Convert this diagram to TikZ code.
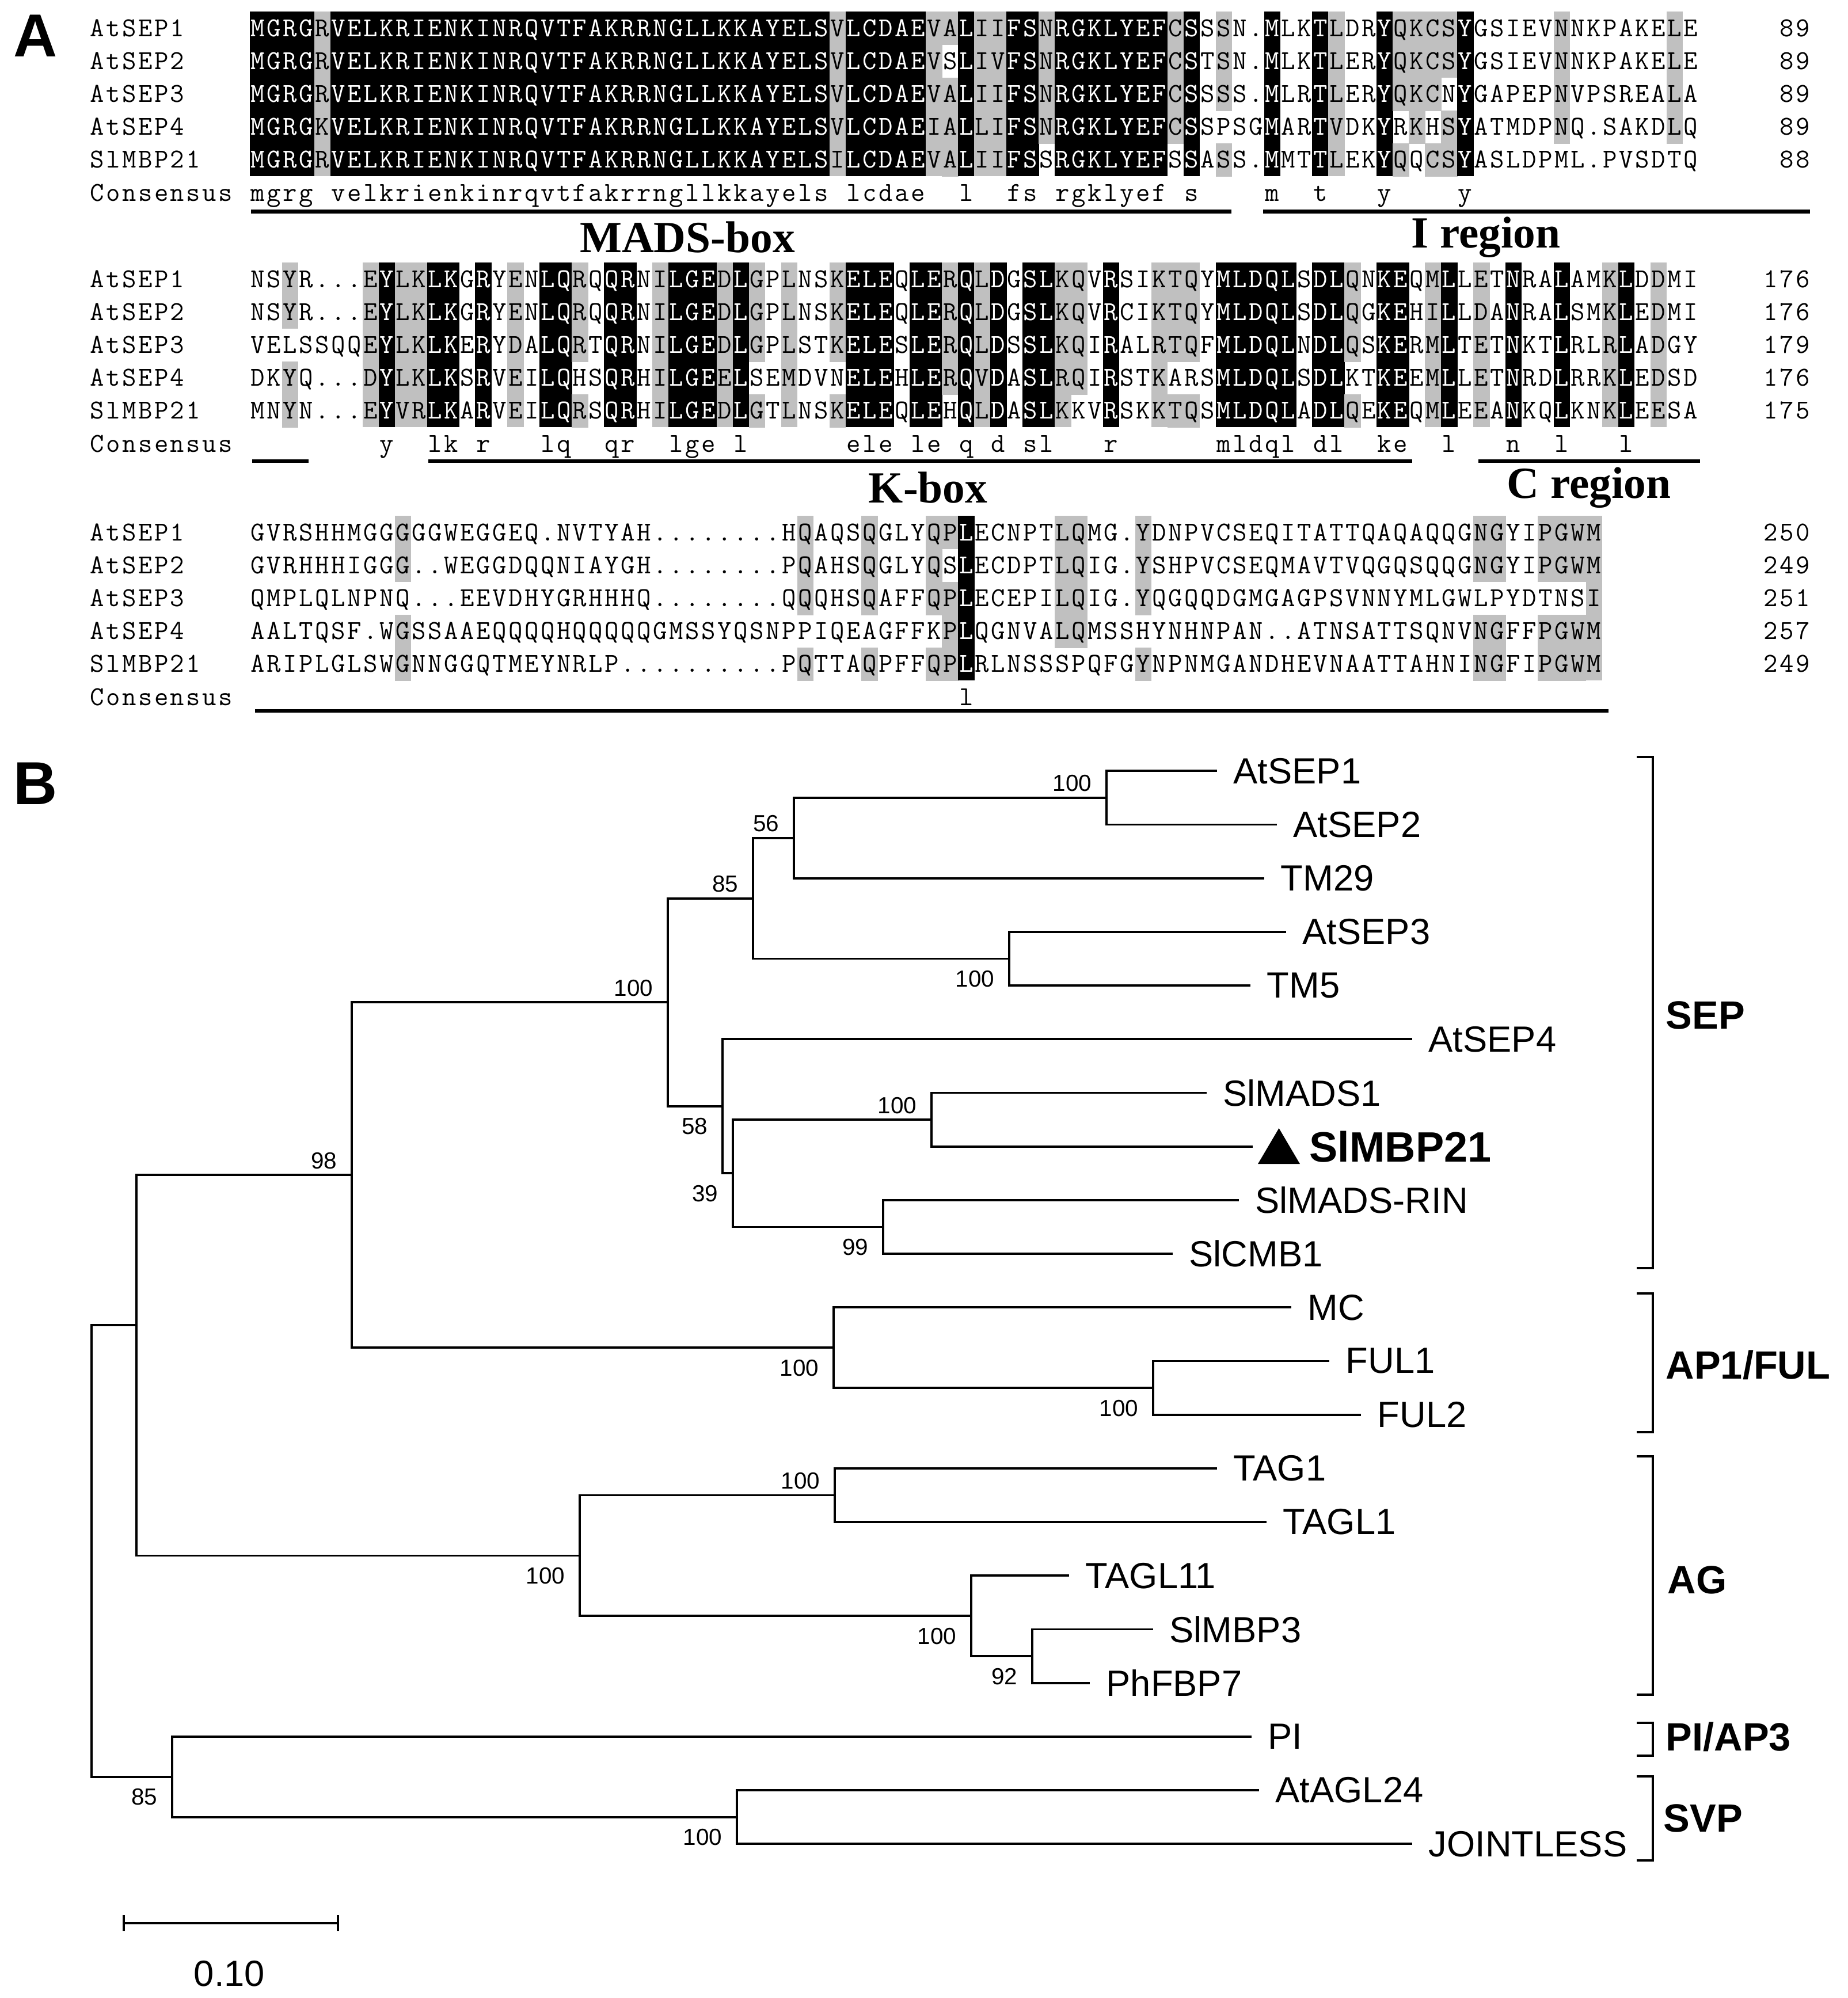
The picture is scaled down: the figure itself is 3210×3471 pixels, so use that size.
\documentclass[tikz,border=0pt]{standalone}
\usepackage{fontspec}
\setmainfont{Liberation Sans}
\newfontfamily\serifbf{Liberation Serif}
\usetikzlibrary{calc}
\definecolor{seqgray}{RGB}{192,192,192}
\makeatletter
\newcount\cidx
\newcount\nodecnt
\def\xo{434}
\def\pw{27.96}
\def\rh{28.6}
\def\rp{57.2}
\def\bl{14}
\def\popc#1#2\relax{\def\curc{#1}\def\crest{#2}}
\def\shtfor{\@tfor\colcc:=}
\newcommand\shadecol[3]{%
  \if B#3\relax
    \fill[black] ({\xo+#1*\pw},{#2-\rh}) rectangle ({\xo+(#1+1)*\pw+0.6},{#2+4*\rp+\rh});%
  \else\if G#3\relax
    \fill[seqgray] ({\xo+#1*\pw},{#2-\rh}) rectangle ({\xo+(#1+1)*\pw+0.6},{#2+4*\rp+\rh});%
  \else\ifnum`#3>47\relax
    \foreach \rw in {1,...,5}{\ifnum\rw=#3\relax\else
      \fill[seqgray] ({\xo+#1*\pw},{#2+(\rw-1)*\rp-\rh}) rectangle ({\xo+(#1+1)*\pw+0.6},{#2+(\rw-1)*\rp+\rh+0.6});\fi}%
  \fi\fi\fi}
\newcommand\shblock[2]{%
  \cidx=0 \edef\tmplist{#2}%
  \expandafter\shtfor\tmplist\do{%
    \edef\shnext{\noexpand\shadecol{\the\cidx}{#1}{\colcc}}\shnext
    \advance\cidx by 1 }}
\newcommand\seqrow[3]{%
  \cidx=0 \edef\crest{#2}%
  \@tfor\sqch:=#3\do{%
    \expandafter\popc\crest\relax
    \if B\curc\def\tcol{white}\else\def\tcol{black}\fi
    \global\advance\nodecnt by 1
    \node[seqch,text=\tcol] (q\the\nodecnt) at ({\xo+(\the\cidx+0.5)*\pw},{#1+\bl}) {\sqch};%
    \advance\cidx by 1 }}
\newcommand\consrow[3]{%
  \cidx=0 \edef\crest{#2}%
  \@tfor\sqch:=#3\do{%
    \expandafter\popc\crest\relax
    \if B\curc
      \global\advance\nodecnt by 1
      \node[seqch] (q\the\nodecnt) at ({\xo+(\the\cidx+0.5)*\pw},{#1+\bl}) {\lowercase\expandafter{\sqch}};%
    \fi
    \advance\cidx by 1 }}
\newcommand\plainrow[3]{%
  \cidx=0
  \@tfor\sqch:=#3\do{%
    \global\advance\nodecnt by 1
    \node[seqch] (q\the\nodecnt) at ({#1+(\the\cidx+0.5)*\pw},{#2+\bl}) {\sqch};%
    \advance\cidx by 1 }}
\makeatother
\def\codesA{BBBBG%
BBBBBBBBBB%
BBBBBBBBBB%
BBBBBBBBBB%
B%
GBBBBBG2BGGBB5BBBBBBB5B-4--B--BG--B4543B-----5------5-}
\def\codesB{--3----G%
BGGBB%
-B-G-%
BB4-BB-%
GBBBGB%
4-G--4%
BBB-BB5%
BGB-BB%
G5-B--%
G44-%
BBBBB-%
BB4-BB-%
GB-G-B-%
-B--GB-G--}
\def\codesC{---------3%
----------%
----------%
----%
4---4---42B%
-----55---4%
----------%
----------%
33--333G}
\tikzset{
  seqch/.style={font=\ttfamily\fontsize{13.5}{14}\selectfont, inner sep=0pt, anchor=base},
  regionl/.style={font=\serifbf\bfseries\fontsize{22}{24}\selectfont, inner sep=0pt},
  leafl/.style={font=\fontsize{18}{20}\selectfont, anchor=west, inner sep=0pt},
  bootv/.style={font=\fontsize{11.5}{12}\selectfont, anchor=east, inner sep=0pt},
  treeline/.style={line width=1.1pt},
  cladel/.style={font=\bfseries\fontsize{19.5}{21}\selectfont, anchor=west, inner sep=0pt},
  panellbl/.style={font=\bfseries\fontsize{30}{32}\selectfont, inner sep=0pt},
  ulbar/.style={line width=1.9pt},
}
\begin{document}
\begin{tikzpicture}[x=0.1mm,y=-0.1mm]
\useasboundingbox (0,0) rectangle (3210,3471);
\fill[white] (0,0) rectangle (3210,3471);
% ---------------- Panel A ----------------
\node[panellbl] (pA) at (62,62) {A};
% block 1
\shblock{49}{\codesA}
\plainrow{154.4}{49}{AtSEP1}
\plainrow{154.4}{106.2}{AtSEP2}
\plainrow{154.4}{163.4}{AtSEP3}
\plainrow{154.4}{220.6}{AtSEP4}
\plainrow{154.4}{277.8}{SlMBP21}
\plainrow{154.4}{335}{Consensus}
\seqrow{49}{\codesA}{MGRGRVELKRIENKINRQVTFAKRRNGLLKKAYELSVLCDAEVALIIFSNRGKLYEFCSSSN.MLKTLDRYQKCSYGSIEVNNKPAKELE}
\seqrow{106.2}{\codesA}{MGRGRVELKRIENKINRQVTFAKRRNGLLKKAYELSVLCDAEVSLIVFSNRGKLYEFCSTSN.MLKTLERYQKCSYGSIEVNNKPAKELE}
\seqrow{163.4}{\codesA}{MGRGRVELKRIENKINRQVTFAKRRNGLLKKAYELSVLCDAEVALIIFSNRGKLYEFCSSSS.MLRTLERYQKCNYGAPEPNVPSREALA}
\seqrow{220.6}{\codesA}{MGRGKVELKRIENKINRQVTFAKRRNGLLKKAYELSVLCDAEIALLIFSNRGKLYEFCSSPSGMARTVDKYRKHSYATMDPNQ.SAKDLQ}
\seqrow{277.8}{\codesA}{MGRGRVELKRIENKINRQVTFAKRRNGLLKKAYELSILCDAEVALIIFSSRGKLYEFSSASS.MMTTLEKYQQCSYASLDPML.PVSDTQ}
\consrow{335}{\codesA}{MGRGRVELKRIENKINRQVTFAKRRNGLLKKAYELSVLCDAEVALIIFSNRGKLYEFCSSSN.MLKTLDRYQKCSYGSIEVNNKPAKELE}
\plainrow{3090}{49}{89}
\plainrow{3090}{106.2}{89}
\plainrow{3090}{163.4}{89}
\plainrow{3090}{220.6}{89}
\plainrow{3090}{277.8}{88}
\draw[ulbar] (436,367.5) -- (2139,367.5);
\draw[ulbar] (2194,367.5) -- (3144,367.5);
\node[regionl] (mads) at (1194,412) {MADS-box};
\node[regionl] (ireg) at (2581,412) {I region};
% block 2
\shblock{485}{\codesB}
\plainrow{154.4}{485}{AtSEP1}
\plainrow{154.4}{542.2}{AtSEP2}
\plainrow{154.4}{599.4}{AtSEP3}
\plainrow{154.4}{656.6}{AtSEP4}
\plainrow{154.4}{713.8}{SlMBP21}
\plainrow{154.4}{771}{Consensus}
\seqrow{485}{\codesB}{NSYR...EYLKLKGRYENLQRQQRNILGEDLGPLNSKELEQLERQLDGSLKQVRSIKTQYMLDQLSDLQNKEQMLLETNRALAMKLDDMI}
\seqrow{542.2}{\codesB}{NSYR...EYLKLKGRYENLQRQQRNILGEDLGPLNSKELEQLERQLDGSLKQVRCIKTQYMLDQLSDLQGKEHILLDANRALSMKLEDMI}
\seqrow{599.4}{\codesB}{VELSSQQEYLKLKERYDALQRTQRNILGEDLGPLSTKELESLERQLDSSLKQIRALRTQFMLDQLNDLQSKERMLTETNKTLRLRLADGY}
\seqrow{656.6}{\codesB}{DKYQ...DYLKLKSRVEILQHSQRHILGEELSEMDVNELEHLERQVDASLRQIRSTKARSMLDQLSDLKTKEEMLLETNRDLRRKLEDSD}
\seqrow{713.8}{\codesB}{MNYN...EYVRLKARVEILQRSQRHILGEDLGTLNSKELEQLEHQLDASLKKVRSKKTQSMLDQLADLQEKEQMLEEANKQLKNKLEESA}
\consrow{771}{\codesB}{NSYR...EYLKLKGRYENLQRQQRNILGEDLGPLNSKELEQLERQLDGSLKQVRSIKTQYMLDQLSDLQNKEQMLLETNRALAMKLDDMI}
\plainrow{3062}{485}{176}
\plainrow{3062}{542.2}{176}
\plainrow{3062}{599.4}{179}
\plainrow{3062}{656.6}{176}
\plainrow{3062}{713.8}{175}
\draw[ulbar] (438,801) -- (536,801);
\draw[ulbar] (744,801) -- (2453,801);
\draw[ulbar] (2568,801) -- (2953,801);
\node[regionl] (kbox) at (1612,847) {K-box};
\node[regionl] (creg) at (2760,847) {C region};
% block 3
\shblock{925}{\codesC}
\plainrow{154.4}{925}{AtSEP1}
\plainrow{154.4}{982.2}{AtSEP2}
\plainrow{154.4}{1039.4}{AtSEP3}
\plainrow{154.4}{1096.6}{AtSEP4}
\plainrow{154.4}{1153.8}{SlMBP21}
\plainrow{154.4}{1211}{Consensus}
\seqrow{925}{\codesC}{GVRSHHMGGGGGWEGGEQ.NVTYAH........HQAQSQGLYQPLECNPTLQMG.YDNPVCSEQITATTQAQAQQGNGYIPGWM}
\seqrow{982.2}{\codesC}{GVRHHHIGGG..WEGGDQQNIAYGH........PQAHSQGLYQSLECDPTLQIG.YSHPVCSEQMAVTVQGQSQQGNGYIPGWM}
\seqrow{1039.4}{\codesC}{QMPLQLNPNQ...EEVDHYGRHHHQ........QQQHSQAFFQPLECEPILQIG.YQGQQDGMGAGPSVNNYMLGWLPYDTNSI}
\seqrow{1096.6}{\codesC}{AALTQSF.WGSSAAEQQQQHQQQQQGMSSYQSNPPIQEAGFFKPLQGNVALQMSSHYNHNPAN..ATNSATTSQNVNGFFPGWM}
\seqrow{1153.8}{\codesC}{ARIPLGLSWGNNGGQTMEYNRLP..........PQTTAQPFFQPLRLNSSSPQFGYNPNMGANDHEVNAATTAHNINGFIPGWM}
\consrow{1211}{\codesC}{GVRSHHMGGGGGWEGGEQ.NVTYAH........HQAQSQGLYQPLECNPTLQMG.YDNPVCSEQITATTQAQAQQGNGYIPGWM}
\plainrow{3062}{925}{250}
\plainrow{3062}{982.2}{249}
\plainrow{3062}{1039.4}{251}
\plainrow{3062}{1096.6}{257}
\plainrow{3062}{1153.8}{249}
\draw[ulbar] (443,1235) -- (2794,1235);
% ---------------- Panel B ----------------
\node[panellbl] (pB) at (62,1361) {B};
% internal nodes
\coordinate (root) at (159.4,2694);
\coordinate (n107) at (237,2302);
\coordinate (n135) at (299,3086.8);
\coordinate (n276) at (611,2041.2);
\coordinate (n455) at (1007,2702.4);
\coordinate (n524) at (1160,1741.2);
\coordinate (n654) at (1448,2341.2);
\coordinate (n591) at (1308,1560.65);
\coordinate (n567) at (1255,1921.8);
\coordinate (n623) at (1379,1455.8);
\coordinate (n792) at (1753,1665.5);
\coordinate (n868) at (1922,1385.9);
\coordinate (n575) at (1273,2038.3);
\coordinate (n731) at (1618,1945.1);
\coordinate (n693) at (1534,2131.5);
\coordinate (n905) at (2003,2411.1);
\coordinate (n655) at (1450,2597.5);
\coordinate (n762) at (1687,2807.2);
\coordinate (n810) at (1793,2877.1);
\coordinate (n578) at (1280,3156.7);
% leaf ends and labels
\coordinate (e0) at (2114,1339.3);  \node[leafl] (AtSEP1) at (2142,1339.3) {AtSEP1};
\coordinate (e1) at (2218,1432.5);  \node[leafl] (AtSEP2) at (2246,1432.5) {AtSEP2};
\coordinate (e2) at (2196,1525.7);  \node[leafl] (TM29) at (2224,1525.7) {TM29};
\coordinate (e3) at (2234,1618.9);  \node[leafl] (AtSEP3) at (2262,1618.9) {AtSEP3};
\coordinate (e4) at (2172,1712.1);  \node[leafl] (TM5) at (2200,1712.1) {TM5};
\coordinate (e5) at (2453,1805.3);  \node[leafl] (AtSEP4) at (2481,1805.3) {AtSEP4};
\coordinate (e6) at (2096,1898.5);  \node[leafl] (SlMADS1) at (2124,1898.5) {SlMADS1};
\coordinate (e7) at (2176,1991.7);
\fill (2185,2022) -- (2258,2022) -- (2221.5,1960) -- cycle;
\node[leafl,font=\bfseries\fontsize{21}{23}\selectfont] (SlMBP21) at (2274,1991.7) {SlMBP21};
\coordinate (e8) at (2152,2084.9);  \node[leafl] (SlMADSRIN) at (2180,2084.9) {SlMADS-RIN};
\coordinate (e9) at (2037,2178.1);  \node[leafl] (SlCMB1) at (2065,2178.1) {SlCMB1};
\coordinate (e10) at (2243,2271.3); \node[leafl] (MC) at (2271,2271.3) {MC};
\coordinate (e11) at (2309,2364.5); \node[leafl] (FUL1) at (2337,2364.5) {FUL1};
\coordinate (e12) at (2364,2457.7); \node[leafl] (FUL2) at (2392,2457.7) {FUL2};
\coordinate (e13) at (2114,2550.9); \node[leafl] (TAG1) at (2142,2550.9) {TAG1};
\coordinate (e14) at (2200,2644.1); \node[leafl] (TAGL1) at (2228,2644.1) {TAGL1};
\coordinate (e15) at (1857,2737.3); \node[leafl] (TAGL11) at (1885,2737.3) {TAGL11};
\coordinate (e16) at (2003,2830.5); \node[leafl] (SlMBP3) at (2031,2830.5) {SlMBP3};
\coordinate (e17) at (1893,2923.7); \node[leafl] (PhFBP7) at (1921,2923.7) {PhFBP7};
\coordinate (e18) at (2174,3016.9); \node[leafl] (PI) at (2202,3016.9) {PI};
\coordinate (e19) at (2187,3110.1); \node[leafl] (AtAGL24) at (2215,3110.1) {AtAGL24};
\coordinate (e20) at (2453,3203.3); \node[leafl] (JOINTLESS) at (2481,3203.3) {JOINTLESS};
% branches
\draw[treeline] (root) |- (n107); \draw[treeline] (root) |- (n135);
\draw[treeline] (n107) |- (n276); \draw[treeline] (n107) |- (n455);
\draw[treeline] (n276) |- (n524); \draw[treeline] (n276) |- (n654);
\draw[treeline] (n524) |- (n591); \draw[treeline] (n524) |- (n567);
\draw[treeline] (n591) |- (n623); \draw[treeline] (n591) |- (n792);
\draw[treeline] (n623) |- (n868); \draw[treeline] (n623) |- (e2);
\draw[treeline] (n868) |- (e0); \draw[treeline] (n868) |- (e1);
\draw[treeline] (n792) |- (e3); \draw[treeline] (n792) |- (e4);
\draw[treeline] (n567) |- (e5); \draw[treeline] (n567) |- (n575);
\draw[treeline] (n575) |- (n731); \draw[treeline] (n575) |- (n693);
\draw[treeline] (n731) |- (e6); \draw[treeline] (n731) |- (e7);
\draw[treeline] (n693) |- (e8); \draw[treeline] (n693) |- (e9);
\draw[treeline] (n654) |- (e10); \draw[treeline] (n654) |- (n905);
\draw[treeline] (n905) |- (e11); \draw[treeline] (n905) |- (e12);
\draw[treeline] (n455) |- (n655); \draw[treeline] (n455) |- (n762);
\draw[treeline] (n655) |- (e13); \draw[treeline] (n655) |- (e14);
\draw[treeline] (n762) |- (e15); \draw[treeline] (n762) |- (n810);
\draw[treeline] (n810) |- (e16); \draw[treeline] (n810) |- (e17);
\draw[treeline] (n135) |- (e18); \draw[treeline] (n135) |- (n578);
\draw[treeline] (n578) |- (e19); \draw[treeline] (n578) |- (e20);
% bootstrap values
\node[bootv] (b868) at ($(n868)+(-25,-25)$) {100};
\node[bootv] (b623) at ($(n623)+(-25,-25)$) {56};
\node[bootv] (b591) at ($(n591)+(-25,-25)$) {85};
\node[bootv] (b524) at ($(n524)+(-25,-25)$) {100};
\node[bootv] (b792) at ($(n792)+(-25,35)$) {100};
\node[bootv] (b567) at ($(n567)+(-25,35)$) {58};
\node[bootv] (b575) at ($(n575)+(-25,35)$) {39};
\node[bootv] (b731) at ($(n731)+(-25,-25)$) {100};
\node[bootv] (b693) at ($(n693)+(-25,35)$) {99};
\node[bootv] (b276) at ($(n276)+(-25,-25)$) {98};
\node[bootv] (b654) at ($(n654)+(-25,35)$) {100};
\node[bootv] (b905) at ($(n905)+(-25,35)$) {100};
\node[bootv] (b655) at ($(n655)+(-25,-25)$) {100};
\node[bootv] (b455) at ($(n455)+(-25,35)$) {100};
\node[bootv] (b762) at ($(n762)+(-25,35)$) {100};
\node[bootv] (b810) at ($(n810)+(-25,35)$) {92};
\node[bootv] (b135) at ($(n135)+(-25,35)$) {85};
\node[bootv] (b578) at ($(n578)+(-25,35)$) {100};
% clade brackets
\draw[treeline] (2843,1315) -- (2871,1315) -- (2871,2203) -- (2843,2203);
\draw[treeline] (2843,2247) -- (2871,2247) -- (2871,2488) -- (2843,2488);
\draw[treeline] (2843,2530) -- (2871,2530) -- (2871,2944) -- (2843,2944);
\draw[treeline] (2843,2993) -- (2871,2993) -- (2871,3050) -- (2843,3050);
\draw[treeline] (2843,3086) -- (2871,3086) -- (2871,3232) -- (2843,3232);
\node[cladel] (cSEP) at (2893,1764) {SEP};
\node[cladel] (cAP1) at (2893,2371) {AP1/FUL};
\node[cladel] (cAG) at (2896,2745) {AG};
\node[cladel] (cPI) at (2893,3017) {PI/AP3};
\node[cladel] (cSVP) at (2889,3159) {SVP};
% scale bar
\coordinate (s0) at (215,3341);
\coordinate (s1) at (587,3341);
\draw[treeline] (s0) -- (s1);
\draw[treeline] ($(s0)+(0,-14)$) -- ($(s0)+(0,14)$);
\draw[treeline] ($(s1)+(0,-14)$) -- ($(s1)+(0,14)$);
\node[font=\fontsize{18}{20}\selectfont, inner sep=0pt] (scale) at (398.5,3429) {0.10};
\end{tikzpicture}
\end{document}
